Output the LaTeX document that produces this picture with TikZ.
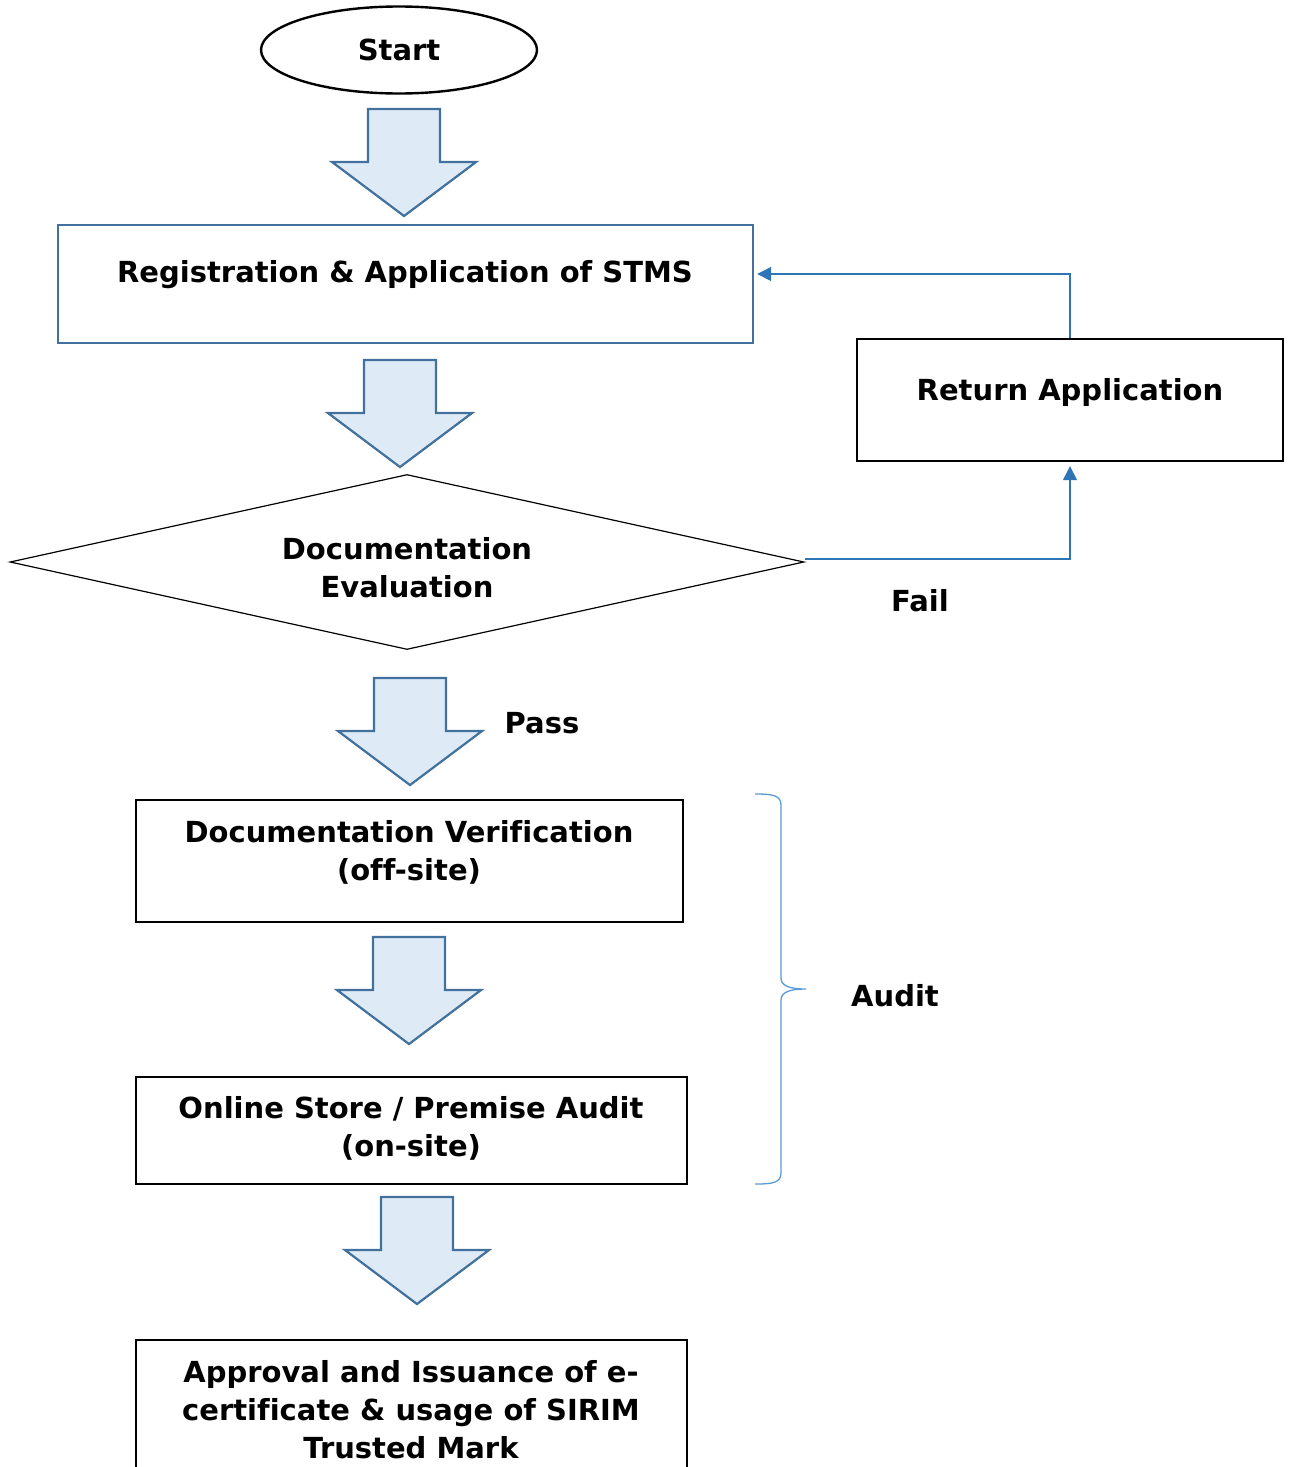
\documentclass[tikz,border=0pt]{standalone}
\usepackage{fontspec}
\setmainfont[Ligatures=NoCommon]{DejaVu Sans}
\usetikzlibrary{shapes.geometric,arrows.meta}
\definecolor{arrowfill}{HTML}{DEEBF7}
\definecolor{arrowline}{HTML}{41719C}
\definecolor{connblue}{HTML}{2E75B6}
\definecolor{braceblue}{HTML}{5B9BD5}
\begin{document}
\begin{tikzpicture}[x=1pt,y=-1pt,
  lbl/.style={font=\fontsize{29}{38}\selectfont\bfseries, align=center, inner sep=0pt},
  box/.style={draw=black, line width=2.4pt, inner sep=0pt},
  conn/.style={draw=connblue, line width=1.3pt, -{Triangle[length=14pt,width=14pt]}},
  pics/blockarrow/.style={code={
    \draw[fill=arrowfill, draw=arrowline, line width=2.2pt, line join=miter]
      (-36,0) -- (36,0) -- (36,53) -- (72,53) -- (0,107) -- (-72,53) -- (-36,53) -- cycle;}}
]
\clip (0,0) rectangle (1290,1467);
\fill[white] (0,0) rectangle (1290,1467);

% Start
\node[ellipse, draw=black, line width=2.4pt, minimum width=276pt, minimum height=87pt, inner sep=0pt, lbl] (start) at (399,50) {Start};

% Registration
\node[box, draw=arrowline, minimum width=695pt, minimum height=118pt] (reg) at (405.5,284) {};
\node[lbl] (regtext) at (405,275) {Registration \& Application of STMS};

% Evaluation diamond
\node[diamond, draw=black, line width=1.2pt, minimum width=794pt, minimum height=175pt, inner sep=0pt] (eval) at (407,562) {};
\node[lbl] (evaltext) at (407,567.5) {Documentation\\Evaluation};

% Return
\node[box, minimum width=426pt, minimum height=122pt] (ret) at (1070,400) {};
\node[lbl] (rettext) at (1070,392) {Return Application};

% Verification
\node[box, minimum width=547pt, minimum height=122pt] (ver) at (409.5,861) {};
\node[lbl] (vertext) at (409,852) {Documentation Verification\\(off-site)};

% Online store
\node[box, minimum width=551pt, minimum height=107pt] (onl) at (411.5,1130.5) {};
\node[lbl] (onltext) at (411,1128) {Online Store / Premise Audit\\(on-site)};

% Approval
\node[box, minimum width=551pt, minimum height=140pt] (app) at (411.5,1410) {};
\node[lbl] (apptext) at (411,1410) {Approval and Issuance of e-\\certificate \& usage of SIRIM\\Trusted Mark};

% block arrows
\pic at (404,109) {blockarrow};
\pic at (400,360) {blockarrow};
\pic at (410,678) {blockarrow};
\pic at (409,937) {blockarrow};
\pic at (417,1197) {blockarrow};

% connectors
\draw[conn, shorten >=4pt] ([yshift=3pt]eval.east) -| (ret.south);
\draw[conn, shorten >=3pt] (ret.north) |- ([yshift=10pt]reg.east);

% labels
\node[lbl] (fail) at (920,601) {Fail};
\node[lbl] (pass) at (542,723) {Pass};
\node[lbl] (audit) at (895,996) {Audit};

% brace
\draw[braceblue, line width=1.3pt]
  (755,794) .. controls (772,794) and (781,795) .. (781,805)
  -- (781,978) .. controls (781,986) and (790,989) .. (806,989)
  .. controls (790,989) and (781,992) .. (781,1000)
  -- (781,1173) .. controls (781,1183) and (772,1184) .. (755,1184);
\end{tikzpicture}
\end{document}
